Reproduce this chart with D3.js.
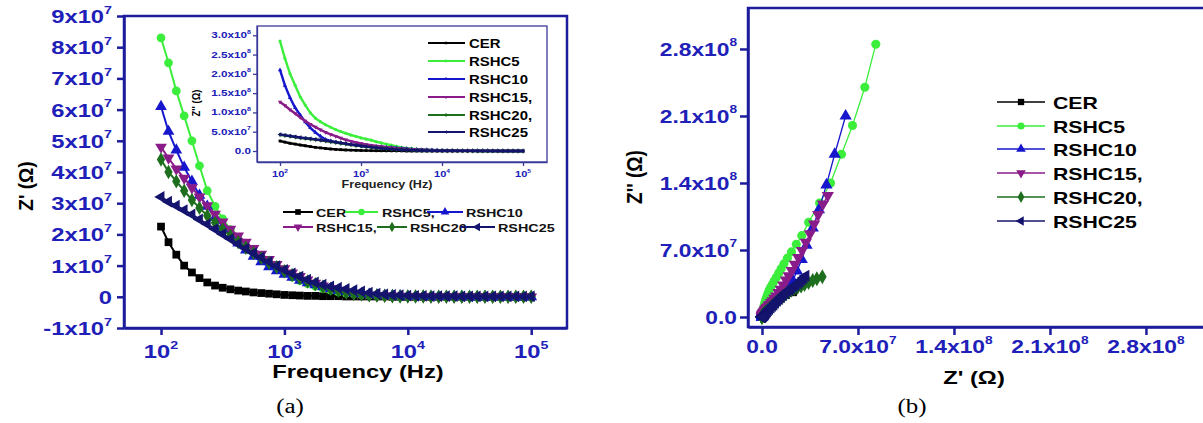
<!DOCTYPE html>
<html>
<head>
<meta charset="utf-8">
<script src="https://cdn.jsdelivr.net/npm/d3@7"></script>
<style>
body { margin: 0; background: #fff; }
svg { display: block; }
</style>
</head>
<body>
<svg width="1203" height="423"></svg>
<script>
// frequency points (Hz)
const freq = [100, 115, 133, 154, 178, 205, 237, 274, 316, 365, 422, 487, 562, 649, 750, 866, 1000,
	1155, 1334, 1540, 1778, 2054, 2371, 2738, 3162, 3652, 4217, 4870, 5623, 6494, 7499, 8660, 10000,
	11550, 13340, 15400, 17780, 20540, 23710, 27380, 31620, 36520, 42170, 48700, 56230, 64940, 74990, 86600, 100000]

const series = ["CER", "RSHC5", "RSHC10", "RSHC15", "RSHC20", "RSHC25"]
const legendA = ["CER", "RSHC5,", "RSHC10", "RSHC15,", "RSHC20", "RSHC25"]
const legendB = ["CER", "RSHC5", "RSHC10", "RSHC15,", "RSHC20,", "RSHC25"]

// Z' (units of 1e7 ohm)
const zReCER = [2.25, 1.75, 1.35, 1.0, 0.78, 0.6, 0.46, 0.36, 0.29, 0.24, 0.2, 0.17, 0.14, 0.12, 0.1, 0.08, 0.06,
	0.05, 0.04, 0.03, 0.03, 0.02, 0.02, 0.02, 0.01, 0.01, 0.01, 0.01, 0.01, 0.01, 0, 0, 0,
	0, 0, 0, 0, 0, 0, 0, 0, 0, 0, 0, 0, 0, 0, 0, 0]
const zReRSHC5 = [8.3, 7.5, 6.6, 5.8, 5.0, 4.2, 3.4, 2.9, 2.5, 2.15, 1.85, 1.6, 1.4, 1.22, 1.05, 0.9, 0.76,
	0.63, 0.52, 0.42, 0.34, 0.27, 0.21, 0.16, 0.12, 0.09, 0.07, 0.05, 0.04, 0.03, 0.02, 0.02, 0.01,
	0.01, 0.01, 0.01, 0.01, 0, 0, 0, 0, 0, 0, 0, 0, 0, 0, 0, 0]
const zReRSHC10 = [6.1, 5.3, 4.7, 4.15, 3.7, 3.25, 2.9, 2.55, 2.25, 1.97, 1.72, 1.5, 1.3, 1.12, 0.96, 0.83, 0.72,
	0.62, 0.53, 0.45, 0.38, 0.32, 0.26, 0.21, 0.17, 0.13, 0.1, 0.08, 0.06, 0.05, 0.04, 0.03, 0.02,
	0.02, 0.02, 0.01, 0.01, 0.01, 0.01, 0.01, 0, 0, 0, 0, 0, 0, 0, 0, 0]
const zReRSHC15 = [4.8, 4.45, 4.1, 3.8, 3.5, 3.2, 2.92, 2.65, 2.4, 2.17, 1.95, 1.75, 1.55, 1.37, 1.2, 1.04, 0.9,
	0.77, 0.65, 0.54, 0.44, 0.35, 0.27, 0.21, 0.15, 0.11, 0.08, 0.06, 0.04, 0.03, 0.02, 0.02, 0.01,
	0.01, 0.01, 0.01, 0, 0, 0, 0, 0, 0, 0, 0, 0, 0, 0, 0, 0]
const zReRSHC20 = [4.4, 4.0, 3.7, 3.4, 3.1, 2.85, 2.6, 2.37, 2.15, 1.95, 1.75, 1.57, 1.4, 1.24, 1.09, 0.95, 0.82,
	0.7, 0.59, 0.49, 0.4, 0.32, 0.25, 0.19, 0.14, 0.1, 0.07, 0.05, 0.04, 0.03, 0.02, 0.01, 0.01,
	0.01, 0.01, 0, 0, 0, 0, 0, 0, 0, 0, 0, 0, 0, 0, 0, 0]
const zReRSHC25 = [3.2, 3.05, 2.92, 2.78, 2.64, 2.48, 2.33, 2.17, 2.01, 1.86, 1.7, 1.55, 1.4, 1.26, 1.12, 0.98, 0.86,
	0.75, 0.65, 0.55, 0.46, 0.39, 0.33, 0.29, 0.25, 0.21, 0.17, 0.13, 0.1, 0.08, 0.06, 0.05, 0.04,
	0.03, 0.03, 0.02, 0.02, 0.02, 0.02, 0.01, 0.01, 0.01, 0.01, 0.01, 0.01, 0.01, 0.01, 0.01, 0.01]

// Z'' (units of 1e7 ohm)
const zImCER = [2.6, 2.3, 2.0, 1.8, 1.55, 1.35, 1.15, 0.95, 0.8, 0.65, 0.52, 0.42, 0.34, 0.27, 0.22, 0.18, 0.14,
	0.11, 0.09, 0.07, 0.06, 0.05, 0.04, 0.03, 0.03, 0.02, 0.02, 0.02, 0.01, 0.01, 0.01, 0.01, 0.01,
	0.01, 0.01, 0.01, 0, 0, 0, 0, 0, 0, 0, 0, 0, 0, 0, 0, 0]
const zImRSHC5 = [28.5, 24, 20, 17, 14, 11.9, 9.9, 8.5, 7.6, 6.8, 6.15, 5.55, 5.05, 4.6, 4.15, 3.8, 3.4,
	3.1, 2.8, 2.4, 2.1, 1.8, 1.5, 1.2, 0.95, 0.75, 0.6, 0.48, 0.38, 0.3, 0.24, 0.19, 0.15,
	0.12, 0.1, 0.08, 0.07, 0.06, 0.05, 0.04, 0.04, 0.03, 0.03, 0.02, 0.02, 0.02, 0.01, 0.01, 0.01]
const zImRSHC10 = [21, 17, 13.8, 11.2, 9.3, 7.5, 6.0, 4.8, 3.8, 3.0, 2.6, 2.3, 2.05, 1.85, 1.7, 1.6, 1.5,
	1.4, 1.3, 1.2, 1.1, 1.0, 0.9, 0.8, 0.7, 0.6, 0.5, 0.42, 0.35, 0.3, 0.25, 0.2, 0.16,
	0.13, 0.11, 0.09, 0.08, 0.07, 0.06, 0.05, 0.04, 0.04, 0.03, 0.03, 0.02, 0.02, 0.02, 0.01, 0.01]
const zImRSHC15 = [12.7, 11.8, 10.7, 9.7, 8.7, 7.8, 6.95, 6.2, 5.5, 4.85, 4.3, 3.85, 3.35, 2.9, 2.55, 2.2, 1.95,
	1.7, 1.5, 1.3, 1.15, 1.0, 0.85, 0.72, 0.6, 0.5, 0.42, 0.35, 0.3, 0.25, 0.2, 0.16, 0.13,
	0.11, 0.09, 0.08, 0.07, 0.06, 0.05, 0.04, 0.04, 0.03, 0.03, 0.02, 0.02, 0.02, 0.01, 0.01, 0.01]
const zImRSHC20 = [4.2, 4.0, 3.8, 3.6, 3.4, 3.25, 3.1, 2.95, 2.8, 2.6, 2.4, 2.2, 2.0, 1.8, 1.6, 1.4, 1.25,
	1.1, 0.95, 0.82, 0.7, 0.6, 0.5, 0.42, 0.35, 0.29, 0.24, 0.2, 0.16, 0.13, 0.11, 0.09, 0.07,
	0.06, 0.05, 0.04, 0.04, 0.03, 0.03, 0.02, 0.02, 0.02, 0.01, 0.01, 0.01, 0.01, 0.01, 0, 0]
const zImRSHC25 = [4.3, 4.1, 3.9, 3.7, 3.5, 3.35, 3.2, 3.0, 2.85, 2.7, 2.5, 2.3, 2.1, 1.9, 1.7, 1.5, 1.3,
	1.15, 1.0, 0.85, 0.72, 0.6, 0.5, 0.4, 0.33, 0.27, 0.22, 0.18, 0.15, 0.12, 0.1, 0.08, 0.06,
	0.05, 0.05, 0.04, 0.04, 0.03, 0.03, 0.02, 0.02, 0.02, 0.02, 0.01, 0.01, 0.01, 0.01, 0.01, 0.01]

// ticks
const aXTicks = [100, 1000, 10000, 100000]
const aXLabels = ["10^2", "10^3", "10^4", "10^5"]
const aYTicks = [-1, 0, 1, 2, 3, 4, 5, 6, 7, 8, 9]
const aYLabels = ["-1x10^7", "0", "1x10^7", "2x10^7", "3x10^7", "4x10^7", "5x10^7", "6x10^7", "7x10^7", "8x10^7", "9x10^7"]
const inYTicks = [0, 5, 10, 15, 20, 25, 30]
const inYLabels = ["0.0", "5.0x10^7", "1.0x10^8", "1.5x10^8", "2.0x10^8", "2.5x10^8", "3.0x10^8"]
const bTicks = [0, 7, 14, 21, 28]
const bLabels = ["0.0", "7.0x10^7", "1.4x10^8", "2.1x10^8", "2.8x10^8"]

const zRe = [zReCER, zReRSHC5, zReRSHC10, zReRSHC15, zReRSHC20, zReRSHC25]
const zIm = [zImCER, zImRSHC5, zImRSHC10, zImRSHC15, zImRSHC20, zImRSHC25]

const colors = ["#000000", "#3cee3c", "#1616cc", "#8a1c8a", "#1d6e1d", "#14146e"]
const symTypes = [d3.symbolSquare, d3.symbolCircle, d3.symbolTriangle, d3.symbolTriangle, d3.symbolDiamond, d3.symbolTriangle]
const symRot = [0, 0, 0, 180, 0, -90]
const AX = "#1c1c9c", TICK = "#2020b8"
const SANS = "'Liberation Sans', Arial, sans-serif"

const svg = d3.select("svg")

function label(g, x, y, str, o) {
	const t = g.append("text")
		.attr("transform", `translate(${x},${y}) rotate(${o.rot || 0}) scale(${o.sx || 1},${o.sy || 1})`)
		.attr("text-anchor", o.anchor || "start")
		.attr("font-family", o.font || SANS)
		.attr("font-weight", o.weight || "bold")
		.attr("font-size", o.size)
		.attr("fill", o.color || "#000")
	const parts = str.split("^")
	t.append("tspan").text(parts[0])
	if (parts[1]) t.append("tspan").attr("dy", -o.size * 0.5).attr("font-size", o.size * 0.6).text(parts[1])
	return t
}

function marker(g, k, x, y, size) {
	g.append("path")
		.attr("d", d3.symbol().type(symTypes[k]).size(size)())
		.attr("transform", `translate(${x},${y}) rotate(${symRot[k]})`)
		.attr("fill", colors[k])
}

function styleAxis(sel, w) {
	sel.selectAll("path, line").attr("stroke", AX).attr("stroke-width", w)
}

// ---------- panel (a) ----------
const ga = svg.append("g")
const xa = d3.scaleLog().domain([Math.pow(10, 1.7), Math.pow(10, 5.29)]).range([124, 567])
const ya = d3.scaleLinear().domain([-1, 9]).range([328, 16])

ga.append("rect").attr("x", 124).attr("y", 16).attr("width", 443).attr("height", 312)
	.attr("fill", "none").attr("stroke", AX).attr("stroke-width", 2.5)
ga.append("g").attr("transform", "translate(0,328)")
	.call(d3.axisBottom(xa).tickValues(aXTicks).tickSize(7).tickSizeOuter(0).tickFormat(""))
	.call(styleAxis, 2.5)
ga.append("g").attr("transform", "translate(124,0)")
	.call(d3.axisLeft(ya).tickValues(aYTicks).tickSize(7).tickSizeOuter(0).tickFormat(""))
	.call(styleAxis, 2.5)
aXTicks.forEach((t, i) => label(ga, xa(t), 358, aXLabels[i], { anchor: "middle", size: 19, sx: 1.25, color: TICK }))
aYTicks.forEach((t, i) => label(ga, 112, ya(t) + 7, aYLabels[i], { anchor: "end", size: 19, sx: 1.25, color: TICK }))

label(ga, 33, 186, "Z' (Ω)", { anchor: "middle", size: 19, rot: -90, sy: 1.05 })
label(ga, 358, 378, "Frequency (Hz)", { anchor: "middle", size: 19, sx: 1.25 })

series.forEach((s, k) => {
	const pts = freq.map((f, i) => [xa(f), ya(zRe[k][i])])
	ga.append("path").attr("d", d3.line()(pts)).attr("fill", "none")
		.attr("stroke", colors[k]).attr("stroke-width", 2)
	pts.forEach(p => marker(ga, k, p[0], p[1], 60))
})

// main legend
const legA = [[283, 313, 316, 212], [345, 378, 382, 212], [427, 463, 466, 212],
	[283, 313, 316, 227], [377, 407, 410, 227], [460, 495, 498, 227]]
legA.forEach((d, k) => {
	ga.append("line").attr("x1", d[0]).attr("x2", d[1]).attr("y1", d[3]).attr("y2", d[3])
		.attr("stroke", colors[k]).attr("stroke-width", 2)
	marker(ga, k, (d[0] + d[1]) / 2, d[3], 32)
	label(ga, d[2], d[3] + 4.5, legendA[k], { size: 11.5, sx: 1.25, color: "#111" })
})

// inset
const gi = svg.append("g")
const xi = d3.scaleLog().domain([Math.pow(10, 1.716), Math.pow(10, 5.296)]).range([257, 547])
const yi = d3.scaleLinear().domain([-2.85, 32.4]).range([162, 26])
gi.append("rect").attr("x", 257).attr("y", 26).attr("width", 290).attr("height", 136)
	.attr("fill", "#fff").attr("stroke", "#3a3a9a").attr("stroke-width", 1.3)
gi.append("g").attr("transform", "translate(0,162)")
	.call(d3.axisBottom(xi).tickValues(aXTicks).tickSize(4).tickSizeOuter(0).tickFormat(""))
	.call(sel => sel.selectAll("path, line").attr("stroke", "#3a3a9a").attr("stroke-width", 1.3))
gi.append("g").attr("transform", "translate(257,0)")
	.call(d3.axisLeft(yi).tickValues(inYTicks).tickSize(4).tickSizeOuter(0).tickFormat(""))
	.call(sel => sel.selectAll("path, line").attr("stroke", "#3a3a9a").attr("stroke-width", 1.3))
aXTicks.forEach((t, i) => label(gi, xi(t), 177, aXLabels[i], { anchor: "middle", size: 8.5, sx: 1.3, color: TICK }))
inYTicks.forEach((t, i) => label(gi, 251, yi(t) + 3, inYLabels[i], { anchor: "end", size: 9, sx: 1.3, color: TICK }))
label(gi, 200, 103, "Z'' (Ω)", { anchor: "middle", size: 9.5, rot: -90, sy: 1.2 })
label(gi, 387, 188, "Frequency (Hz)", { anchor: "middle", size: 10, sx: 1.26, color: "#222" })

series.forEach((s, k) => {
	const pts = freq.map((f, i) => [xi(f), yi(zIm[k][i])])
	gi.append("path").attr("d", d3.line()(pts)).attr("fill", "none")
		.attr("stroke", colors[k]).attr("stroke-width", 2.4)
	pts.forEach(p => marker(gi, k, p[0], p[1], 8))
})

const inRows = [43, 61, 79, 97, 115, 132]
series.forEach((s, k) => {
	gi.append("line").attr("x1", 428).attr("x2", 465).attr("y1", inRows[k]).attr("y2", inRows[k])
		.attr("stroke", colors[k]).attr("stroke-width", 2)
	marker(gi, k, 446, inRows[k], 6)
	label(gi, 469, inRows[k] + 4.7, legendB[k], { size: 13, sx: 1.15 })
})

label(svg, 290, 413, "(a)", { anchor: "middle", size: 20, sx: 1.25, weight: "normal", font: "'Liberation Serif', 'Times New Roman', serif" })

// ---------- panel (b) ----------
const gb = svg.append("g")
const xb = d3.scaleLinear().domain([-1.02, 32.38]).range([748, 1206])
const yb = d3.scaleLinear().domain([-1.045, 32.28]).range([327, 8])

gb.append("rect").attr("x", 748).attr("y", 8).attr("width", 458).attr("height", 319)
	.attr("fill", "none").attr("stroke", AX).attr("stroke-width", 2.5)
gb.append("g").attr("transform", "translate(0,327)")
	.call(d3.axisBottom(xb).tickValues(bTicks).tickSize(8).tickSizeOuter(0).tickFormat(""))
	.call(styleAxis, 2.5)
gb.append("g").attr("transform", "translate(748,0)")
	.call(d3.axisLeft(yb).tickValues(bTicks).tickSize(8).tickSizeOuter(0).tickFormat(""))
	.call(styleAxis, 2.5)
bTicks.forEach((t, i) => label(gb, xb(t), 353, bLabels[i], { anchor: "middle", size: 19, sx: 1.2, color: TICK }))
bTicks.forEach((t, i) => label(gb, 737, yb(t) + 7, bLabels[i], { anchor: "end", size: 19, sx: 1.2, color: TICK }))

label(gb, 642, 177, "Z'' (Ω)", { anchor: "middle", size: 19, rot: -90, sy: 1.2 })
label(gb, 974, 384, "Z' (Ω)", { anchor: "middle", size: 19, sx: 1.25 })

series.forEach((s, k) => {
	const pts = freq.map((f, i) => [xb(zRe[k][i]), yb(zIm[k][i])])
	gb.append("path").attr("d", d3.line()(pts)).attr("fill", "none")
		.attr("stroke", colors[k]).attr("stroke-width", 1.3)
	pts.forEach(p => marker(gb, k, p[0], p[1], 65))
})

const bRows = [102, 126, 149, 173, 197, 221]
series.forEach((s, k) => {
	gb.append("line").attr("x1", 997).attr("x2", 1045).attr("y1", bRows[k]).attr("y2", bRows[k])
		.attr("stroke", colors[k]).attr("stroke-width", 1.5)
	marker(gb, k, 1021, bRows[k], 40)
	label(gb, 1053, bRows[k] + 6.5, legendB[k], { size: 17, sx: 1.25 })
})

label(svg, 912, 413, "(b)", { anchor: "middle", size: 20, sx: 1.25, weight: "normal", font: "'Liberation Serif', 'Times New Roman', serif" })
</script>
</body>
</html>
